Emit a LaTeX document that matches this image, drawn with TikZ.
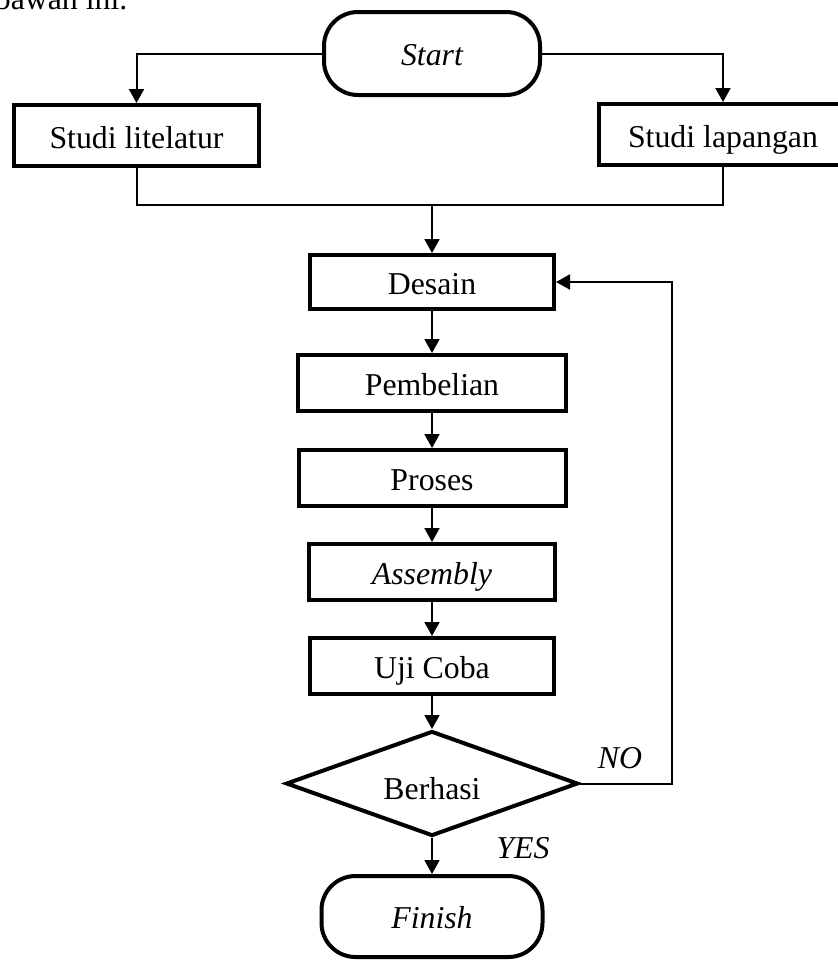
\documentclass[tikz,border=0pt]{standalone}
\usepackage{fontspec}
\setmainfont{Liberation Serif}
\usetikzlibrary{arrows.meta,positioning,shapes.geometric}
\newcommand{\chartfont}{\fontsize{15.9pt}{19pt}\selectfont}

\begin{document}
\begin{tikzpicture}[
      x=0.5pt,y=-0.5pt,
      font=\chartfont,
      box/.style={draw,line width=2pt,align=center,minimum height=28pt,text height=12.5pt,text depth=0pt},
      term/.style={draw,line width=2pt,rounded corners=17pt,text height=12pt,text depth=0pt,font=\chartfont\itshape},
      cond/.style={draw,diamond,aspect=2.8,line width=2pt,minimum width=146pt,minimum height=52.5pt,text height=16pt,text depth=0pt},
      arrow/.style={-{Triangle[length=7pt,width=7.5pt]},line width=1pt},
      link/.style={line width=1pt},
      lbl/.style={font=\chartfont\itshape}
    ]
      \useasboundingbox (0,0) rectangle (837,960);
      \node[anchor=base west,inner sep=0pt] (intro) at (-5.5,9) {bawah ini.};

      \node[term,minimum width=108pt,minimum height=41.5pt] (start) at (432,53.5) {Start};
      \node[box,minimum width=122.5pt,minimum height=30.5pt] (lit) at (136.5,135.5) {Studi litelatur};
      \node[box,minimum width=124pt,minimum height=30.5pt] (lap) at (723,134.5) {Studi lapangan};
      \node[box,minimum width=122pt,minimum height=27pt] (desain) at (432,282) {Desain};
      \node[box,minimum width=134pt,below=21pt of desain] (beli) {Pembelian};
      \node[box,minimum width=133.5pt,below=17.5pt of beli] (proses) {Proses};
      \node[box,minimum width=123pt,below=17pt of proses] (rakit) {\textit{Assembly}};
      \node[box,minimum width=122pt,below=17pt of rakit] (uji) {Uji Coba};
      \node[cond,below=16.5pt of uji] (cek) {Berhasi};
      \node[term,minimum width=110.5pt,minimum height=40.5pt,below=18pt of cek] (finish) {Finish};

      \coordinate (merge) at (432,205);
      \draw[arrow] (start.west) -| (lit.north);
      \draw[arrow] (start.east) -| (lap.north);
      \draw[link] (lit.south) |- (merge) -| (lap.south);
      \draw[arrow] (merge) -- (desain.north);
      \draw[arrow] (desain.south) -- (beli.north);
      \draw[arrow] (beli.south) -- (proses.north);
      \draw[arrow] (proses.south) -- (rakit.north);
      \draw[arrow] (rakit.south) -- (uji.north);
      \draw[arrow] (uji.south) -- (cek.north);
      \draw[arrow] (cek.east) -- ++(92,0) |- (desain.east);
      \draw[arrow] (cek.south) -- (finish.north);

      \node[lbl] (no) at (620,758) {NO};
      \node[lbl] (yes) at (523,848) {YES};
    \end{tikzpicture}
\end{document}
